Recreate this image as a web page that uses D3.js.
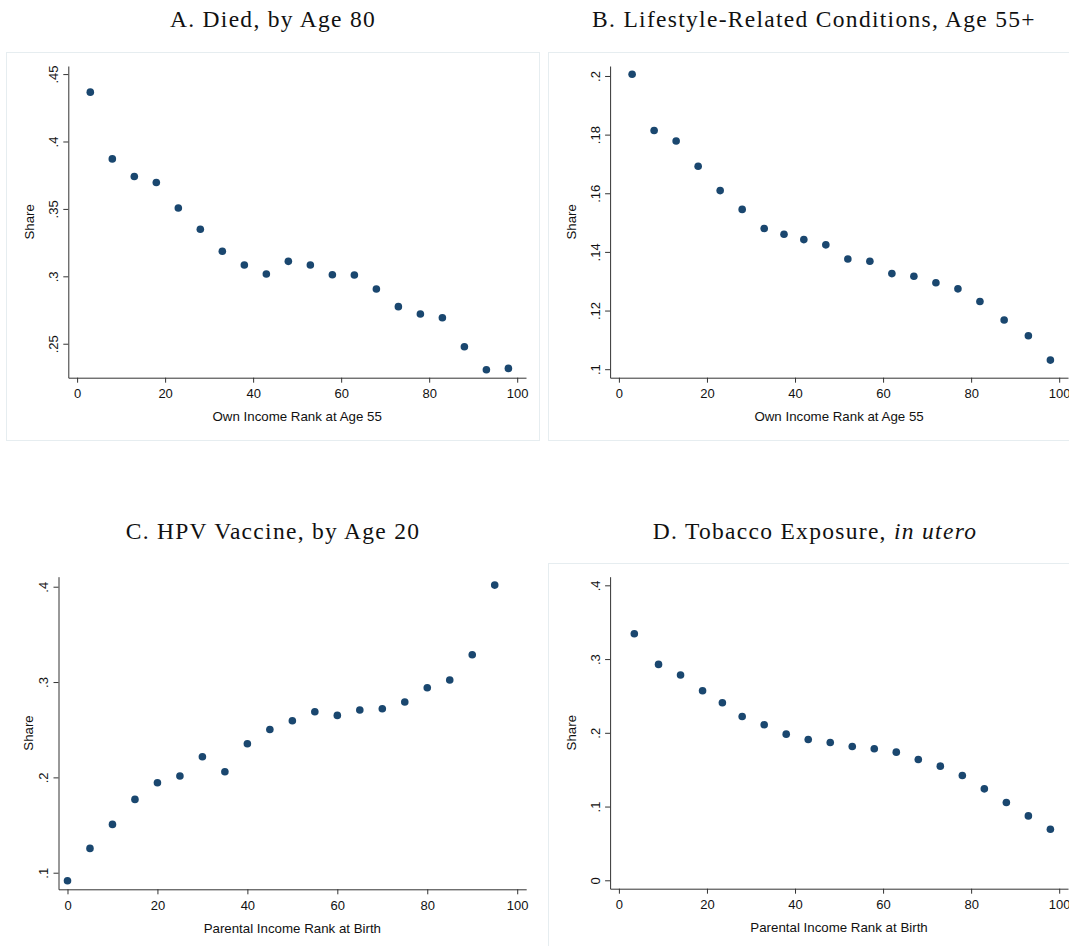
<!doctype html>
<html lang="en">
<head>
  <meta charset="utf-8">
  <title>Health outcomes by income rank</title>
  <style>
  body { margin: 0; background: #fff; }
  .frame { fill: none; stroke: #e6edf0; stroke-width: 1; }
  .axis path, .axis line { stroke: #333; stroke-width: 1; }
  .axis text { font-family: "Liberation Sans", Arial, sans-serif; font-size: 13px; fill: #111; }
  .ptitle { font-family: "Liberation Serif", "Times New Roman", serif; font-size: 23.5px; letter-spacing: 1.3px; fill: #111; }
  .atitle { font-family: "Liberation Sans", Arial, sans-serif; font-size: 13.3px; fill: #111; }
  .dot { fill: #1a476f; }
  </style>
</head>
<body>
  <div id="chart"></div>
  <script src="https://d3js.org/d3.v7.min.js"></script>
  <script>
    // A. Died, by age 80
    var rankA = [3, 8, 13, 18, 23, 28, 33, 38, 43, 48, 53, 58, 63, 68, 73, 78, 83, 88, 93, 98];
    var diedA = [.4366, .3871, .374, .3696, .3507, .3349, .3186, .3084, .3017, .3111,
                 .3084, .3012, .3010, .2906, .2775, .272, .2693, .2478, .2307, .2317];
    // B. Lifestyle-related conditions, age 55+
    var rankB = [3, 8, 13, 18, 23, 28, 33, 37.5, 42, 47, 52, 57, 62, 67, 72, 77, 82, 87.5, 93, 98];
    var lifeB = [.2006, .1814, .1778, .1692, .1609, .1545, .148, .146, .1442, .1424,
                 .1376, .1368, .1326, .1317, .1295, .1274, .1231, .1168, .1114, .1031];
    // C. HPV vaccine, by age 20
    var rankC = [0, 5, 10, 15, 20, 25, 30, 35, 40, 45, 50, 55, 60, 65, 70, 75, 80, 85, 90, 95];
    var hpvC  = [.0916, .1255, .1507, .1769, .1944, .2014, .2217, .2059, .2353, .2503,
                 .2594, .2689, .265, .2706, .272, .279, .294, .3021, .3287, .4017];
    // D. Tobacco exposure, in utero
    var rankD = [3.5, 9, 14, 19, 23.5, 28, 33, 38, 43, 48, 53, 58, 63, 68, 73, 78, 83, 88, 93, 98];
    var tobD  = [.3344, .2928, .2783, .2571, .2408, .2222, .2109, .1982, .191, .1869,
                 .1815, .1783, .1738, .1638, .1548, .1421, .124, .1055, .0873, .0693];

    var xTicks = [0, 20, 40, 60, 80, 100];
    var yTicksA = [.25, .3, .35, .4, .45], yLabA = [".25", ".3", ".35", ".4", ".45"];
    var yTicksB = [.1, .12, .14, .16, .18, .2], yLabB = [".1", ".12", ".14", ".16", ".18", ".2"];
    var yTicksC = [.1, .2, .3, .4], yLabC = [".1", ".2", ".3", ".4"];
    var yTicksD = [0, .1, .2, .3, .4], yLabD = ["0", ".1", ".2", ".3", ".4"];

    var width = 1069, height = 946;

    var svg = d3.select("#chart").append("svg")
        .attr("width", width)
        .attr("height", height);

    var panels = [
      { title: "A. Died, by Age 80", tx: 273, ty: 27, frame: [6.5, 52.5, 533, 388],
        x: rankA, y: diedA, xl: "Own Income Rank at Age 55", sx: 29,
        xr: [68.3, 526], yr: [377.7, 66], yd: [.2248, .456], yt: yTicksA, yl: yLabA },
      { title: "B. Lifestyle-Related Conditions, Age 55+", tx: 814, ty: 27, frame: [548.5, 52.5, 540, 388],
        x: rankB, y: lifeB, xl: "Own Income Rank at Age 55", sx: 571,
        xr: [610.1, 1068], yr: [377.7, 66], yd: [.0971, .2034], yt: yTicksB, yl: yLabB },
      { title: "C. HPV Vaccine, by Age 20", tx: 273, ty: 539, frame: null,
        x: rankC, y: hpvC, xl: "Parental Income Rank at Birth", sx: 28.6,
        xr: [58.5, 526.2], yr: [889.3, 576.7], yd: [.0826, .4105], yt: yTicksC, yl: yLabC },
      { title: "D. Tobacco Exposure, ", italic: "in utero", tx: 815, ty: 539, frame: [548.5, 563.5, 540, 400],
        x: rankD, y: tobD, xl: "Parental Income Rank at Birth", sx: 571,
        xr: [610.1, 1068], yr: [888.7, 576.7], yd: [-.0114, .4117], yt: yTicksD, yl: yLabD }
    ];

    panels.forEach(function(p) {
      var g = svg.append("g");

      if (p.frame) {
        g.append("rect").attr("class", "frame")
          .attr("x", p.frame[0]).attr("y", p.frame[1])
          .attr("width", p.frame[2]).attr("height", p.frame[3]);
      }

      var t = g.append("text").attr("class", "ptitle")
        .attr("x", p.tx).attr("y", p.ty)
        .attr("text-anchor", "middle")
        .text(p.title);
      if (p.italic) t.append("tspan").style("font-style", "italic").text(p.italic);

      var x = d3.scaleLinear().domain([-2, 102]).range(p.xr);
      var y = d3.scaleLinear().domain(p.yd).range(p.yr);

      var bottom = p.yr[0], left = p.xr[0];

      g.append("g").attr("class", "axis")
        .attr("transform", "translate(0," + bottom + ")")
        .call(d3.axisBottom(x).tickValues(xTicks).tickSize(5).tickSizeOuter(0).tickPadding(6));

      var ya = g.append("g").attr("class", "axis")
        .attr("transform", "translate(" + left + ",0)")
        .call(d3.axisLeft(y).tickValues(p.yt).tickSize(5).tickSizeOuter(0)
          .tickFormat(function(d, i) { return p.yl[i]; }));
      ya.selectAll(".tick text")
        .attr("transform", "rotate(-90)")
        .attr("x", 0).attr("y", -10.5).attr("dy", 0)
        .attr("text-anchor", "middle");

      g.append("text").attr("class", "atitle")
        .attr("x", (p.xr[0] + x(102)) / 2)
        .attr("y", bottom + 43.5)
        .attr("text-anchor", "middle")
        .text(p.xl);

      g.append("text").attr("class", "atitle")
        .attr("transform", "translate(" + (p.sx + 4.5) + "," + ((p.yr[0] + p.yr[1]) / 2) + ") rotate(-90)")
        .attr("text-anchor", "middle")
        .text("Share");

      g.selectAll("circle").data(p.x).enter()
        .append("circle").attr("class", "dot")
        .attr("cx", function(d) { return x(d); })
        .attr("cy", function(d, i) { return y(p.y[i]); })
        .attr("r", 3.8);
    });
  </script>
</body>
</html>
